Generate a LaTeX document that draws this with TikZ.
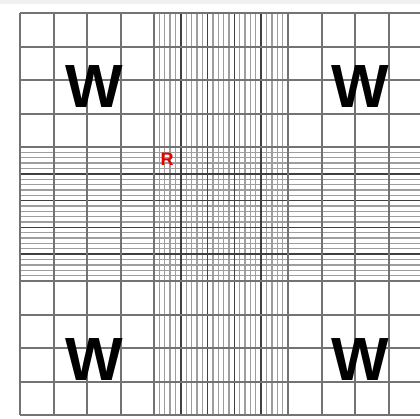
\documentclass[tikz,border=0pt]{standalone}
\usepackage{fontspec}
\setmainfont{Liberation Sans}
\usetikzlibrary{positioning}
\tikzset{bigline/.style={black!55, line width=2pt},
         subline/.style={black!38, line width=1.3pt},
         midline/.style={black!75, line width=1.7pt},
         wlabel/.style={inner sep=0pt, font=\fontsize{61}{61}\selectfont\bfseries},
         rlabel/.style={inner sep=0pt, text=red!90!black, font=\fontsize{18}{18}\selectfont\bfseries}}

\begin{document}
\begin{tikzpicture}[x=1pt,y=-1pt]
\useasboundingbox (0,0) rectangle (420,418);
\fill[black!6] (0,0) rectangle (420,4);

% thin lines of the central strips
\foreach \i in {0,...,25}
{
\draw[subline] (154+5.36*\i,13) -- (154+5.36*\i,415);
\draw[subline] (20,147+5.36*\i) -- (420,147+5.36*\i);
}

% medium squares
\foreach \i in {0,...,5}
{
\draw[midline] (154+26.8*\i,13) -- (154+26.8*\i,415);
\draw[midline] (20,147+26.8*\i) -- (420,147+26.8*\i);
}

% large squares
\foreach \k in {0,...,4,8,9,10,11,12}
{
\draw[bigline] (20+33.5*\k,13) -- (20+33.5*\k,415);
\draw[bigline] (20,13+33.5*\k) -- (420,13+33.5*\k);
}

\node[wlabel] (wtl) at (94,87) {W};
\node[wlabel] (wtr) at (360,87) {W};
\node[wlabel] (wbl) at (94,360) {W};
\node[wlabel] (wbr) at (360,360) {W};
\node[rlabel] (r) at (167,159) {R};
\end{tikzpicture}
\end{document}
